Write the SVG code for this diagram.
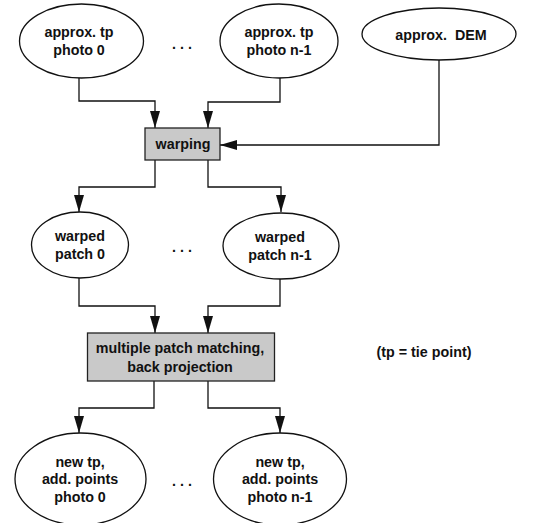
<svg xmlns="http://www.w3.org/2000/svg" width="558" height="523" viewBox="0 0 558 523">
<defs>
<style>
.n ellipse{fill:#fff;stroke:#111;stroke-width:1.3}
.b rect{fill:#c9c9c9;stroke:#222;stroke-width:1.3}
text{font-family:"Liberation Sans",Arial,sans-serif;font-weight:bold;font-size:14.3px;fill:#111;text-anchor:middle}
.c path{fill:none;stroke:#111;stroke-width:1.3;marker-end:url(#ah)}
</style>
<marker id="ah" viewBox="0 0 17 10" refX="17" refY="5" markerWidth="17" markerHeight="10" markerUnits="userSpaceOnUse" orient="auto">
<path d="M0,0 L17,5 L0,10 z" fill="#111"/>
</marker>
</defs>
<rect width="558" height="523" fill="#fff"/>
<g class="c" id="connectors">
<path d="M79,78 V101 H155 V128"/>
<path d="M280,78 V102 H208 V128"/>
<path d="M439,60 V145 H220"/>
<path d="M155,160 V187 H79 V212"/>
<path d="M208,160 V187 H281 V212"/>
<path d="M79,278 V306 H155 V333"/>
<path d="M280,279 V306 H208 V333"/>
<path d="M154,381 V408 H79 V433"/>
<path d="M208,381 V408 H280 V433"/>
</g>
<g id="n1" class="n"><ellipse cx="81.5" cy="41" rx="62" ry="37"/><text x="79" y="37">approx. tp</text><text x="79" y="55">photo 0</text></g>
<g id="n2" class="n"><ellipse cx="279" cy="41" rx="59" ry="37"/><text x="279" y="37">approx. tp</text><text x="279" y="55">photo n-1</text></g>
<g id="n3" class="n"><ellipse cx="439" cy="34" rx="77" ry="26"/><text x="441" y="40" xml:space="preserve">approx.  DEM</text></g>
<g id="d1"><text x="182" y="49">. . .</text></g>
<g id="warping" class="b"><rect x="145" y="128" width="75" height="32"/><text x="183" y="149">warping</text></g>
<g id="n4" class="n"><ellipse cx="80" cy="245" rx="48.5" ry="33"/><text x="80" y="241">warped</text><text x="80" y="259">patch 0</text></g>
<g id="n5" class="n"><ellipse cx="281" cy="246" rx="58" ry="33"/><text x="280" y="242">warped</text><text x="280" y="260">patch n-1</text></g>
<g id="d2"><text x="182" y="252">. . .</text></g>
<g id="match" class="b"><rect x="87.5" y="333" width="187" height="48"/><text x="180" y="353">multiple patch matching,</text><text x="180" y="372">back projection</text></g>
<g id="note"><text x="424" y="357">(tp = tie point)</text></g>
<g id="n6" class="n"><ellipse cx="80.5" cy="479" rx="65.5" ry="46"/><text x="80" y="467">new tp,</text><text x="80" y="484">add. points</text><text x="80" y="502">photo 0</text></g>
<g id="n7" class="n"><ellipse cx="280" cy="479" rx="66.5" ry="46"/><text x="280" y="467">new tp,</text><text x="280" y="484">add. points</text><text x="280" y="502">photo n-1</text></g>
<g id="d3"><text x="182" y="486">. . .</text></g>
</svg>
